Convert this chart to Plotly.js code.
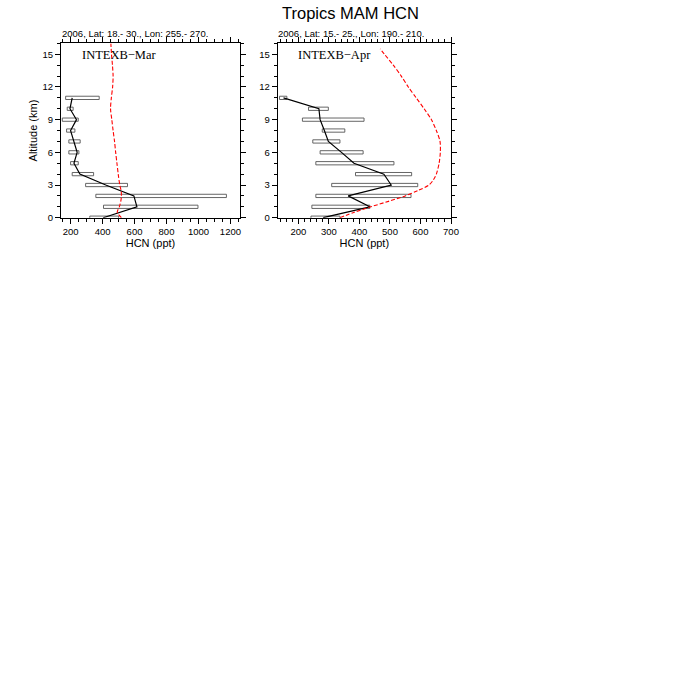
<!DOCTYPE html>
<html>
<head>
<meta charset="utf-8">
<script src="https://cdn.plot.ly/plotly-3.0.1.min.js"></script>
<style>html,body{margin:0;padding:0;background:#fff;}#chart{width:700px;height:700px;}</style>
</head>
<body>
<div id="chart"></div>
<script>
// ---- Data: INTEX-B March (left panel) ----
const marAlt   = [0, 1, 2, 3, 4, 5, 6, 7, 8, 9, 10, 11];
const marObs   = [404, 615, 596, 420, 258, 221, 241, 221, 200, 237, 196, 210];
const marLow   = [320, 406, 358, 294, 210, 200, 189, 189, 175, 148, 179, 169];
const marHigh  = [500, 997, 1175, 556, 344, 248, 252, 260, 227, 248, 216, 379];
const marModelAlt = [0, 0.5, 1, 1.5, 2, 2.5, 3, 4, 5, 6, 7, 8, 9, 10, 11, 12, 13, 14, 15, 16];
const marModel    = [518, 492, 505, 514, 518, 516, 508, 498, 490, 482, 475, 466, 458, 450, 455, 463, 466, 462, 456, 452];

// ---- Data: INTEX-B April (right panel) ----
const aprAlt   = [0, 1, 2, 3, 4, 5, 6, 7, 8, 9, 10, 11];
const aprObs   = [281, 434, 363, 504, 480, 382, 341, 298, 285, 271, 267, 151];
const aprLow   = [241, 244, 257, 309, 387, 257, 271, 247, 278, 213, 233, 138];
const aprHigh  = [336, 434, 569, 591, 571, 513, 412, 336, 352, 415, 298, 162];
const aprModelAlt = [0, 0.5, 1, 1.5, 2, 2.5, 3, 3.5, 4, 5, 6, 7, 8, 9, 10, 11, 12, 13, 14, 15, 15.5];
const aprModel    = [336, 383, 437, 495, 550, 592, 628, 643, 652, 661, 665, 664, 652, 636, 612, 586, 560, 537, 511, 482, 468];

// ---- Text ----
const mainTitle = "Tropics MAM HCN";
const marSub = "2006, Lat: 18.- 30., Lon: 255.- 270.";
const aprSub = "2006, Lat: 15.- 25., Lon: 190.- 210.";
const marLabel = "INTEXB\u2212Mar";
const aprLabel = "INTEXB\u2212Apr";

function boxes(alt, lo, hi, xa, ya) {
  return {
    type: 'bar', orientation: 'h',
    y: alt, base: lo, x: hi.map((h, i) => h - lo[i]),
    width: 0.3,
    marker: {color: '#ffffff', line: {color: '#555', width: 0.9}},
    xaxis: xa, yaxis: ya, hoverinfo: 'skip', showlegend: false
  };
}
function obsLine(alt, v, xa, ya) {
  return {type: 'scatter', mode: 'lines', x: v, y: alt,
    line: {color: '#000', width: 1.2}, xaxis: xa, yaxis: ya, showlegend: false};
}
function modLine(alt, v, xa, ya) {
  return {type: 'scatter', mode: 'lines', x: v, y: alt,
    line: {color: '#ff0000', width: 1.1, dash: '4px,2px', shape: 'spline', smoothing: 0.8},
    xaxis: xa, yaxis: ya, showlegend: false};
}

const data = [
  boxes(marAlt, marLow, marHigh, 'x', 'y'),
  obsLine(marAlt, marObs, 'x', 'y'),
  modLine(marModelAlt, marModel, 'x', 'y'),
  boxes(aprAlt, aprLow, aprHigh, 'x2', 'y2'),
  obsLine(aprAlt, aprObs, 'x2', 'y2'),
  modLine(aprModelAlt, aprModel, 'x2', 'y2')
];

const tickFont = {family: 'Liberation Sans, Arial, sans-serif', size: 9.5, color: '#000'};
const titleFont = {family: 'Liberation Sans, Arial, sans-serif', size: 11, color: '#000'};
function xax(domain, range, dtick, minor, anchor) {
  return {
    domain: domain, range: range, anchor: anchor,
    tick0: 0, dtick: dtick, ticks: 'outside', ticklen: 5, tickwidth: 1, tickcolor: '#000',
    minor: {dtick: minor, tick0: 0, ticks: 'outside', ticklen: 3, tickwidth: 1, tickcolor: '#000'},
    showline: true, linecolor: '#000', linewidth: 1, mirror: 'allticks',
    showgrid: false, zeroline: false, tickfont: tickFont,
    title: {text: 'HCN (ppt)', font: titleFont, standoff: 3}
  };
}
function yax(anchor, withTitle) {
  const a = {
    domain: [0.689, 0.938], range: [0, 16], anchor: anchor,
    tick0: 0, dtick: 3, ticks: 'outside', ticklen: 5, tickwidth: 1, tickcolor: '#000',
    minor: {dtick: 1, tick0: 0, ticks: 'outside', ticklen: 3, tickwidth: 1, tickcolor: '#000'},
    showline: true, linecolor: '#000', linewidth: 1, mirror: 'allticks',
    showgrid: false, zeroline: false, tickfont: tickFont
  };
  if (withTitle) a.title = {text: 'Altitude (km)', font: titleFont, standoff: 2};
  return a;
}

const layout = {
  width: 700, height: 700,
  margin: {l: 0, r: 0, t: 0, b: 0},
  paper_bgcolor: '#fff', plot_bgcolor: '#fff',
  barmode: 'overlay', showlegend: false,
  xaxis: xax([61/700, 240/700], [140, 1260], 200, 50, 'y'),
  yaxis: yax('x', true),
  xaxis2: xax([277.7/700, 451/700], [132, 700], 100, 20, 'y2'),
  yaxis2: yax('x2', false),
  annotations: [
    {text: mainTitle, xref: 'paper', yref: 'paper', x: 350/700, y: 1 - 13/700,
     xanchor: 'center', yanchor: 'middle', showarrow: false,
     font: {family: 'Liberation Sans, Arial, sans-serif', size: 16.5, color: '#000'}},
    {text: marSub, xref: 'paper', yref: 'paper', x: 60/700, y: 1 - 33/700,
     xanchor: 'left', yanchor: 'middle', showarrow: false,
     font: {family: 'Liberation Sans, Arial, sans-serif', size: 9.5, color: '#000'}},
    {text: aprSub, xref: 'paper', yref: 'paper', x: 276/700, y: 1 - 33/700,
     xanchor: 'left', yanchor: 'middle', showarrow: false,
     font: {family: 'Liberation Sans, Arial, sans-serif', size: 9.5, color: '#000'}},
    {text: marLabel, xref: 'paper', yref: 'paper', x: 80/700, y: 1 - 55/700,
     xanchor: 'left', yanchor: 'middle', showarrow: false,
     font: {family: 'Liberation Serif, Times New Roman, serif', size: 12.5, color: '#000'}},
    {text: aprLabel, xref: 'paper', yref: 'paper', x: 296/700, y: 1 - 55/700,
     xanchor: 'left', yanchor: 'middle', showarrow: false,
     font: {family: 'Liberation Serif, Times New Roman, serif', size: 12.5, color: '#000'}}
  ]
};

Plotly.newPlot('chart', data, layout, {displayModeBar: false, staticPlot: true});
</script>
</body>
</html>
